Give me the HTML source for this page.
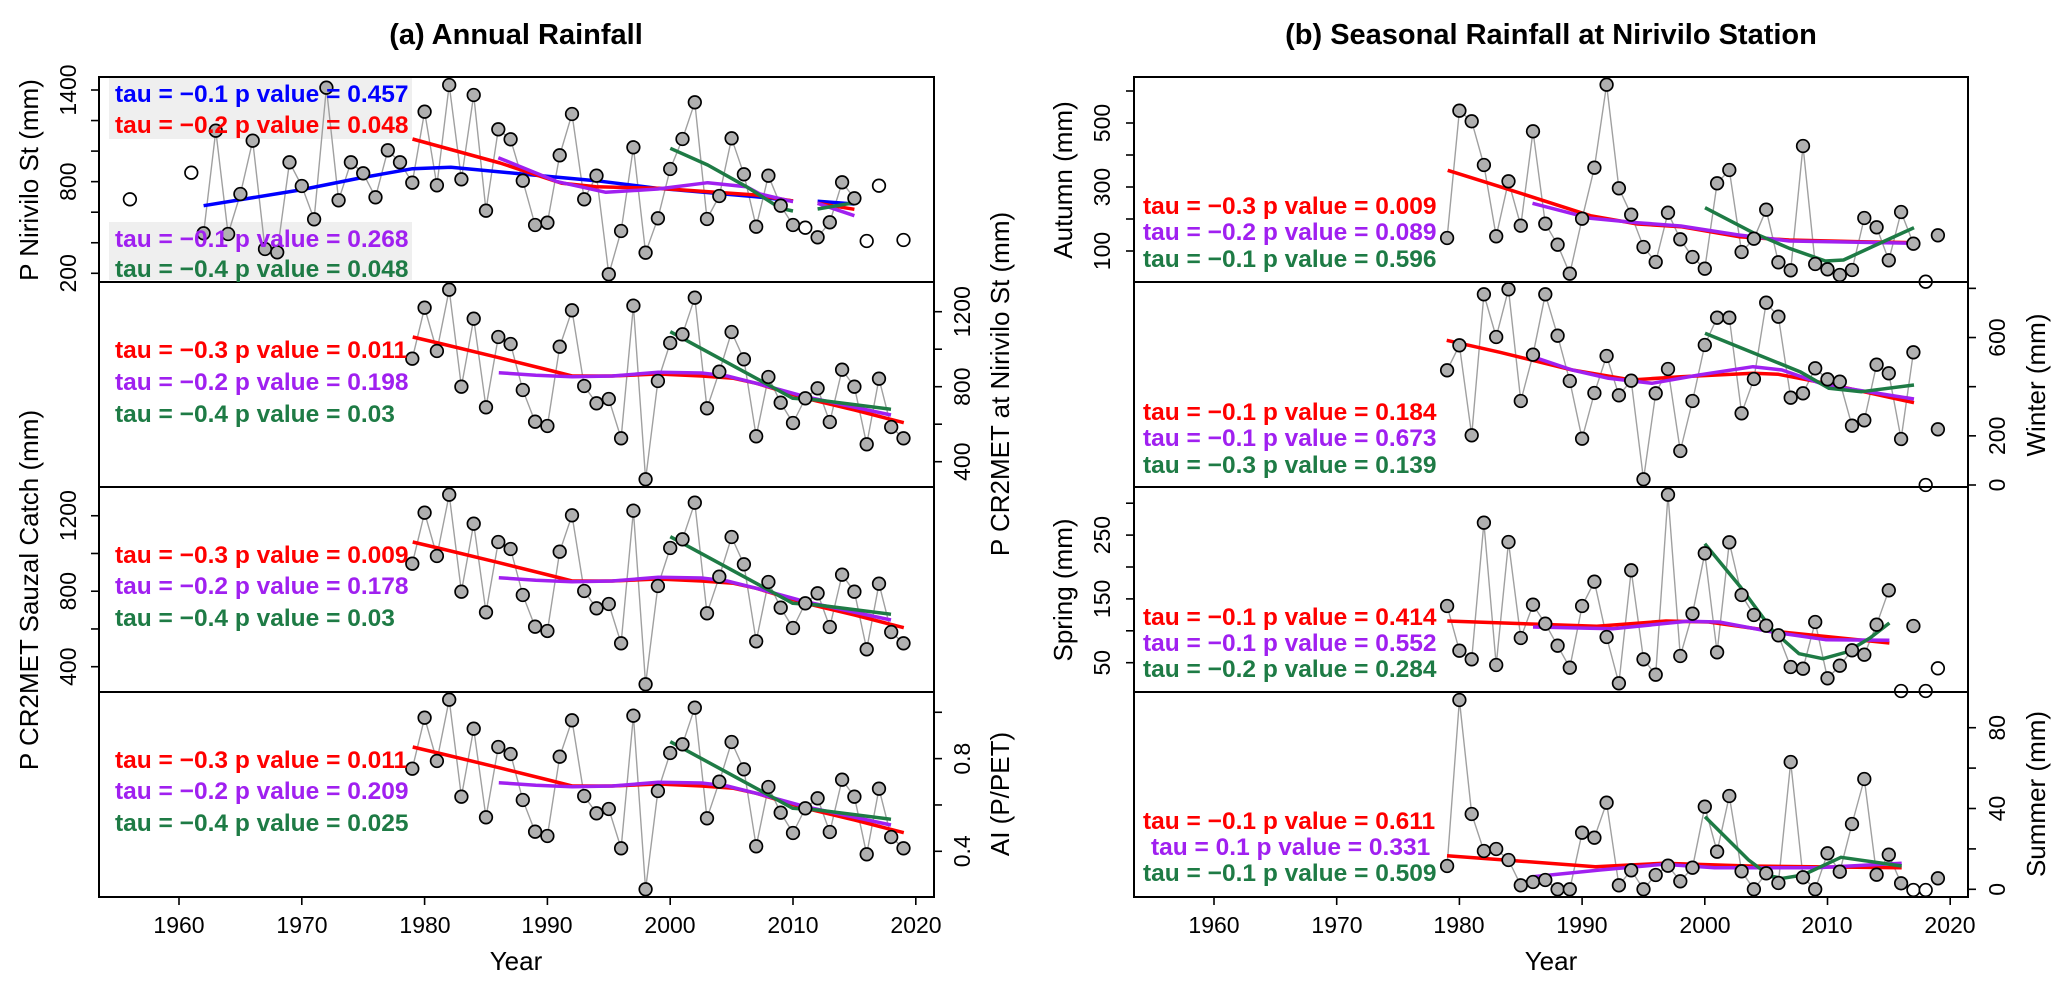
<!DOCTYPE html>
<html><head><meta charset="utf-8"><style>
html,body{margin:0;padding:0;background:#fff;}
svg{display:block;font-family:"Liberation Sans",Arial,sans-serif;}
.t{font-weight:bold;font-size:24.5px;}
.tk{font-size:23px;}
.ax{font-size:26px;}
.ti{font-size:29px;font-weight:bold;}
</style></head><body>
<svg id="s" width="2067" height="989" viewBox="0 0 2067 989" xmlns="http://www.w3.org/2000/svg">
<rect width="2067" height="989" fill="#fff"/>
<rect x="109" y="78" width="303" height="61" fill="#efefef"/>
<rect x="109" y="222" width="303" height="58" fill="#efefef"/>
<g id="g"></g>
<text class="ti" x="516" y="44" text-anchor="middle">(a) Annual Rainfall</text>
<text class="ti" x="1551" y="44" text-anchor="middle">(b) Seasonal Rainfall at Nirivilo Station</text>
<g class="t">
<text x="115" y="102" fill="#0000ff">tau = −0.1 p value = 0.457</text>
<text x="115" y="133" fill="#ff0000">tau = −0.2 p value = 0.048</text>
<text x="115" y="247" fill="#a020f0">tau = −0.1 p value = 0.268</text>
<text x="115" y="277" fill="#1e7b45">tau = −0.4 p value = 0.048</text>
<text x="115" y="358" fill="#ff0000">tau = −0.3 p value = 0.011</text>
<text x="115" y="390" fill="#a020f0">tau = −0.2 p value = 0.198</text>
<text x="115" y="422" fill="#1e7b45">tau = −0.4 p value = 0.03</text>
<text x="115" y="563" fill="#ff0000">tau = −0.3 p value = 0.009</text>
<text x="115" y="594" fill="#a020f0">tau = −0.2 p value = 0.178</text>
<text x="115" y="626" fill="#1e7b45">tau = −0.4 p value = 0.03</text>
<text x="115" y="768" fill="#ff0000">tau = −0.3 p value = 0.011</text>
<text x="115" y="799" fill="#a020f0">tau = −0.2 p value = 0.209</text>
<text x="115" y="831" fill="#1e7b45">tau = −0.4 p value = 0.025</text>
<text x="1143" y="214" fill="#ff0000">tau = −0.3 p value = 0.009</text>
<text x="1143" y="240" fill="#a020f0">tau = −0.2 p value = 0.089</text>
<text x="1143" y="267" fill="#1e7b45">tau = −0.1 p value = 0.596</text>
<text x="1143" y="420" fill="#ff0000">tau = −0.1 p value = 0.184</text>
<text x="1143" y="446" fill="#a020f0">tau = −0.1 p value = 0.673</text>
<text x="1143" y="473" fill="#1e7b45">tau = −0.3 p value = 0.139</text>
<text x="1143" y="625" fill="#ff0000">tau = −0.1 p value = 0.414</text>
<text x="1143" y="651" fill="#a020f0">tau = −0.1 p value = 0.552</text>
<text x="1143" y="677" fill="#1e7b45">tau = −0.2 p value = 0.284</text>
<text x="1143" y="829" fill="#ff0000">tau = −0.1 p value = 0.611</text>
<text x="1151" y="855" fill="#a020f0">tau = 0.1 p value = 0.331</text>
<text x="1143" y="881" fill="#1e7b45">tau = −0.1 p value = 0.509</text>
</g>
<g class="tk" text-anchor="middle">
<text x="179" y="933">1960</text><text x="302" y="933">1970</text><text x="425" y="933">1980</text><text x="547" y="933">1990</text><text x="670" y="933">2000</text><text x="793" y="933">2010</text><text x="916" y="933">2020</text>
<text x="1214" y="933">1960</text><text x="1337" y="933">1970</text><text x="1459" y="933">1980</text><text x="1582" y="933">1990</text><text x="1705" y="933">2000</text><text x="1827" y="933">2010</text><text x="1950" y="933">2020</text>
<text transform="translate(68,273.3) rotate(-90)" dy="8">200</text>
<text transform="translate(68,181.7) rotate(-90)" dy="8">800</text>
<text transform="translate(68,90) rotate(-90)" dy="8">1400</text>
<text transform="translate(962,461.7) rotate(-90)" dy="8">400</text>
<text transform="translate(962,386.7) rotate(-90)" dy="8">800</text>
<text transform="translate(962,311.7) rotate(-90)" dy="8">1200</text>
<text transform="translate(68,666.7) rotate(-90)" dy="8">400</text>
<text transform="translate(68,591.2) rotate(-90)" dy="8">800</text>
<text transform="translate(68,515.7) rotate(-90)" dy="8">1200</text>
<text transform="translate(962,851.3) rotate(-90)" dy="8">0.4</text>
<text transform="translate(962,758.7) rotate(-90)" dy="8">0.8</text>
<text transform="translate(1102,251) rotate(-90)" dy="8">100</text>
<text transform="translate(1102,187) rotate(-90)" dy="8">300</text>
<text transform="translate(1102,123) rotate(-90)" dy="8">500</text>
<text transform="translate(1997,485) rotate(-90)" dy="8">0</text>
<text transform="translate(1997,435.8) rotate(-90)" dy="8">200</text>
<text transform="translate(1997,337.5) rotate(-90)" dy="8">600</text>
<text transform="translate(1102,662.7) rotate(-90)" dy="8">50</text>
<text transform="translate(1102,598.9) rotate(-90)" dy="8">150</text>
<text transform="translate(1102,535.1) rotate(-90)" dy="8">250</text>
<text transform="translate(1997,889.3) rotate(-90)" dy="8">0</text>
<text transform="translate(1997,808.5) rotate(-90)" dy="8">40</text>
<text transform="translate(1997,727.7) rotate(-90)" dy="8">80</text>
</g>
<g class="ax" text-anchor="middle">
<text x="516" y="970">Year</text>
<text x="1551" y="970">Year</text>
<text transform="translate(29,180) rotate(-90)" dy="9">P Nirivilo St (mm)</text>
<text transform="translate(29,590) rotate(-90)" dy="9">P CR2MET Sauzal Catch (mm)</text>
<text transform="translate(1000,384) rotate(-90)" dy="9">P CR2MET at Nirivilo St (mm)</text>
<text transform="translate(1000,794) rotate(-90)" dy="9">AI (P/PET)</text>
<text transform="translate(1063,180) rotate(-90)" dy="9">Autumn (mm)</text>
<text transform="translate(1063,590) rotate(-90)" dy="9">Spring (mm)</text>
<text transform="translate(2036,385) rotate(-90)" dy="9">Winter (mm)</text>
<text transform="translate(2036,794) rotate(-90)" dy="9">Summer (mm)</text>
</g>
</svg>
<script>
(function(){
var g=document.getElementById('g'),h='';
function LX(y){return 179+(y-1960)*12.28;}
function RX(y){return 1214+(y-1960)*12.27;}
function pl(pts,c,w){h+='<polyline points="'+pts.map(function(p){return p[0].toFixed(1)+','+p[1].toFixed(1)}).join(' ')+'" fill="none" stroke="'+c+'" stroke-width="'+w+'" stroke-linejoin="round" stroke-linecap="butt"/>';}
function pt(x,y,f){h+='<circle cx="'+x.toFixed(1)+'" cy="'+y.toFixed(1)+'" r="6.3" fill="'+(f?'#b0b0b0':'#fff')+'" stroke="#000" stroke-width="1.7"/>';}
function series(X,y0,ys){var p=ys.map(function(v,i){return [X(y0+i),v]});pl(p,'#a0a0a0',1.4);return p;}
var RED='#ff0000',PUR='#a020f0',GRN='#1e7b45',BLU='#0000ff';
function frame(x1,y1,x2,y2){h+='<rect x="'+x1+'" y="'+y1+'" width="'+(x2-x1)+'" height="'+(y2-y1)+'" fill="none" stroke="#000" stroke-width="2"/>';}
function ticks(x,side,vals,f){vals.forEach(function(v){var y=f(v);h+='<line x1="'+x+'" x2="'+(x+side*8)+'" y1="'+y+'" y2="'+y+'" stroke="#000" stroke-width="1.6"/>';});}
function xt(X,yb){for(var y=1960;y<=2020;y+=10){var x=X(y);h+='<line x1="'+x+'" x2="'+x+'" y1="'+yb+'" y2="'+(yb+8)+'" stroke="#000" stroke-width="1.6"/>';}}
var steps=function(a,b,s){var r=[];for(var v=a;v<=b+1e-9;v+=s)r.push(v);return r;};
ticks(99,-1,steps(200,1400,200),function(v){return 273.3-(v-200)*0.15275});
ticks(934,1,steps(400,1200,200),function(v){return 461.7-(v-400)*0.1875});
ticks(99,-1,steps(400,1200,200),function(v){return 666.7-(v-400)*0.1887});
ticks(934,1,steps(0.4,1.0,0.2),function(v){return 851.3-(v-0.4)*231.7});
ticks(1134,-1,steps(100,600,100),function(v){return 251-(v-100)*0.32});
ticks(1968,1,steps(0,800,200),function(v){return 485-v*0.2458});
ticks(1134,-1,steps(50,300,50),function(v){return 662.7-(v-50)*0.638});
ticks(1968,1,steps(0,80,20),function(v){return 889.3-v*2.02});
xt(LX,897);xt(RX,897);
var p1=[233.3,130.7,234,194,140.7,249,252.3,162.3,186,219.3,87.7,200.3,162.3,173.3,197.3,150.3,162.3,182.7,111.7,185.3,85,179.3,95,210.7,129.3,139.3,180.7,225,222.7,155.3,114,199.3,175.7,274.3,231,147.3,252.7,218.3,169,139,102.3,219,196,138.3,174.3,226.7,175.7,205.7,225];
var a=series(LX,1962,p1);var b=series(LX,2012,[237.3,222.3,182.3,198.3]);
pl([[203.6,205.7],[300,190],[360,178],[412.5,168.7],[450.8,167.3],[533,175],[596,180.7],[657.7,188.3],[756,196.7],[793,201]],BLU,3.5);
pl([[817.6,201.3],[854.4,204]],BLU,3.5);
pl([[412.5,139],[500,163],[562,183.3],[596,186.7],[657.7,188.3],[756,195],[793,201]],RED,3.5);
pl([[817.6,203.3],[854.4,209.3]],RED,3.5);
pl([[498.3,157.7],[557.4,181.7],[605.9,192.3],[657.7,189],[707.7,182.7],[746.4,186.7],[760,194],[793,201.7]],PUR,3.5);
pl([[817.6,203.3],[854.4,215.7]],PUR,3.5);
pl([[670.3,148.3],[707.7,165],[746.4,186.7],[780.4,208.3],[793,211]],GRN,3.5);
pl([[817.6,209],[854.4,202.7]],GRN,3.5);
a.concat(b).forEach(function(p){pt(p[0],p[1],1)});
[[1956,199.3],[1961,172.7],[2011,227.7],[2016,241],[2017,185.7],[2019,240]].forEach(function(p){pt(LX(p[0]),p[1],0)});
var zy=[266,113,243,59,350,146,412,201,222,360,455,468,230,121,348,400,387,505,107,628,333,219,193,83,415,305,186,268,499,321,398,459,385,355,456,299,350,523,326,471,505];
var R=[[647,201],[700,225],[780,262],[860,300],[897,318],[960,318],[1032,312],[1100,318],[1150,325],[1186,340],[1263,385],[1340,420],[1417,458]];
var P=[[782,308],[840,316],[897,320],[960,318],[1032,307],[1100,309],[1140,318],[1186,340],[1263,380],[1397,435]];
var G=[[1051,185],[1128,265],[1205,345],[1243,385],[1282,390],[1397,418]];
[282,487,692].forEach(function(top){
 var ys=zy.map(function(v){return top+(v-36)/3});
 var s=series(LX,1979,ys);
 function cv(L){return L.map(function(q){return [q[0]*0.6378,top+(q[1]-36)/3]})}
 pl(cv(R),RED,3.5);pl(cv(P),PUR,3.5);pl(cv(G),GRN,3.5);
 s.forEach(function(p){pt(p[0],p[1],1)});
});
var au=[238,110.7,121.3,165,236.3,181.3,225.7,131.3,223.7,244.7,273.7,218.7,167.7,84.7,188.3,214.7,247,262,212.7,239.3,257,268.7,183.3,170,252,238.7,209.7,262.3,270.3,146,264,269.3,275,270,218,227.3,260.3,212,243.7];
var s=series(RX,1979,au);
pl([[1447.7,170.3],[1500,186.7],[1590.4,215.7],[1637.4,224],[1680.8,226.7],[1738.7,236.7],[1789.3,240],[1861.6,241.7],[1914,242.7]],RED,3.5);
pl([[1532.5,203.3],[1590.4,218.3],[1637.4,222.7],[1680.8,226],[1738.7,235],[1789.3,241],[1914,243.3]],PUR,3.5);
pl([[1705,207.7],[1753,232.7],[1789.3,248.3],[1825.4,261],[1843.5,260],[1876,245],[1914,227.7]],GRN,3.5);
s.forEach(function(p){pt(p[0],p[1],1)});pt(RX(2018),281.7,0);pt(RX(2019),235.3,1);
var wi=[370.3,345.3,435.3,294.3,337,289.3,401,354.7,294.3,335.7,381,438.7,393,356,395.3,380.7,479.3,393.3,369,451,401,345,317.7,317.7,413.3,379,302.7,316.7,397.7,393.3,368.3,379.3,381.7,425.7,420.3,364.7,373.3,439,352.3];
s=series(RX,1979,wi);
pl([[1446.7,340.3],[1500,352.3],[1572.3,370],[1631.3,380],[1680.8,376.7],[1753,373.3],[1778.4,374.3],[1825.4,383.3],[1914,402.7]],RED,3.5);
pl([[1532.5,356.7],[1572.3,370],[1608.5,378.3],[1651.9,383.3],[1698.9,375],[1753,366.7],[1782,370],[1825.4,385],[1914,399]],PUR,3.5);
pl([[1705,333.3],[1753,352.7],[1800,371.7],[1829,388.3],[1861.6,391.7],[1914,385]],GRN,3.5);
s.forEach(function(p){pt(p[0],p[1],1)});pt(RX(2018),485,0);pt(RX(2019),429.3,1);
var sp=[606,650.7,659.3,522.7,665,542,638,604.7,623.7,645.7,667.7,606,581.7,637,683.3,570.3,659.3,674.7,494.7,656,613.7,553.3,652.3,542.3,595,615,625.7,635.3,667,668.7,622,678.3,665.7,650.3,654.7,624.7,590.3];
s=series(RX,1979,sp);
pl([[1447.3,621],[1596.8,626.3],[1666,621],[1708.6,622],[1772.4,631],[1889.4,643]],RED,3.5);
pl([[1533,627],[1612.8,628.7],[1687.3,621.3],[1719.2,622],[1772.4,632],[1825.6,639.7],[1889.4,640.3]],PUR,3.5);
pl([[1704.8,543.7],[1740.5,587],[1772.4,630.3],[1799,653.7],[1822.9,658.7],[1846.9,652],[1870,638],[1889.4,623]],GRN,3.5);
s.forEach(function(p){pt(p[0],p[1],1)});pt(RX(2016),691,0);pt(RX(2017),626,1);pt(RX(2018),691,0);pt(RX(2019),668.3,0);
var su=[866,700,814,851,849,860,885.3,882,880,889.3,889.3,832.7,837.7,802.7,885.3,870.3,889.3,875,865.7,881.3,867.7,806.7,851.7,796,871.3,889.3,873.3,883,762,877.3,889.3,853.3,871.7,824,779,874.7,854.7,883.3];
s=series(RX,1979,su);
pl([[1447,855.7],[1595.4,866.7],[1663.5,863.3],[1748.6,866],[1901.7,867.7]],RED,3.5);
pl([[1532.8,876.7],[1600,870],[1663.5,864.3],[1714.5,867.7],[1816.6,867.7],[1901.7,863.3]],PUR,3.5);
pl([[1705,816.7],[1748.6,860],[1770,876],[1782.6,878.3],[1803,875],[1841,857.3],[1901.7,866]],GRN,3.5);
s.forEach(function(p){pt(p[0],p[1],1)});pt(RX(2017),890,0);pt(RX(2018),890,0);pt(RX(2019),878.3,1);
[[77,282],[282,487],[487,692],[692,897]].forEach(function(r){frame(99,r[0],934,r[1]);frame(1134,r[0],1968,r[1]);});
g.innerHTML=h;
})();
</script>
</body></html>
